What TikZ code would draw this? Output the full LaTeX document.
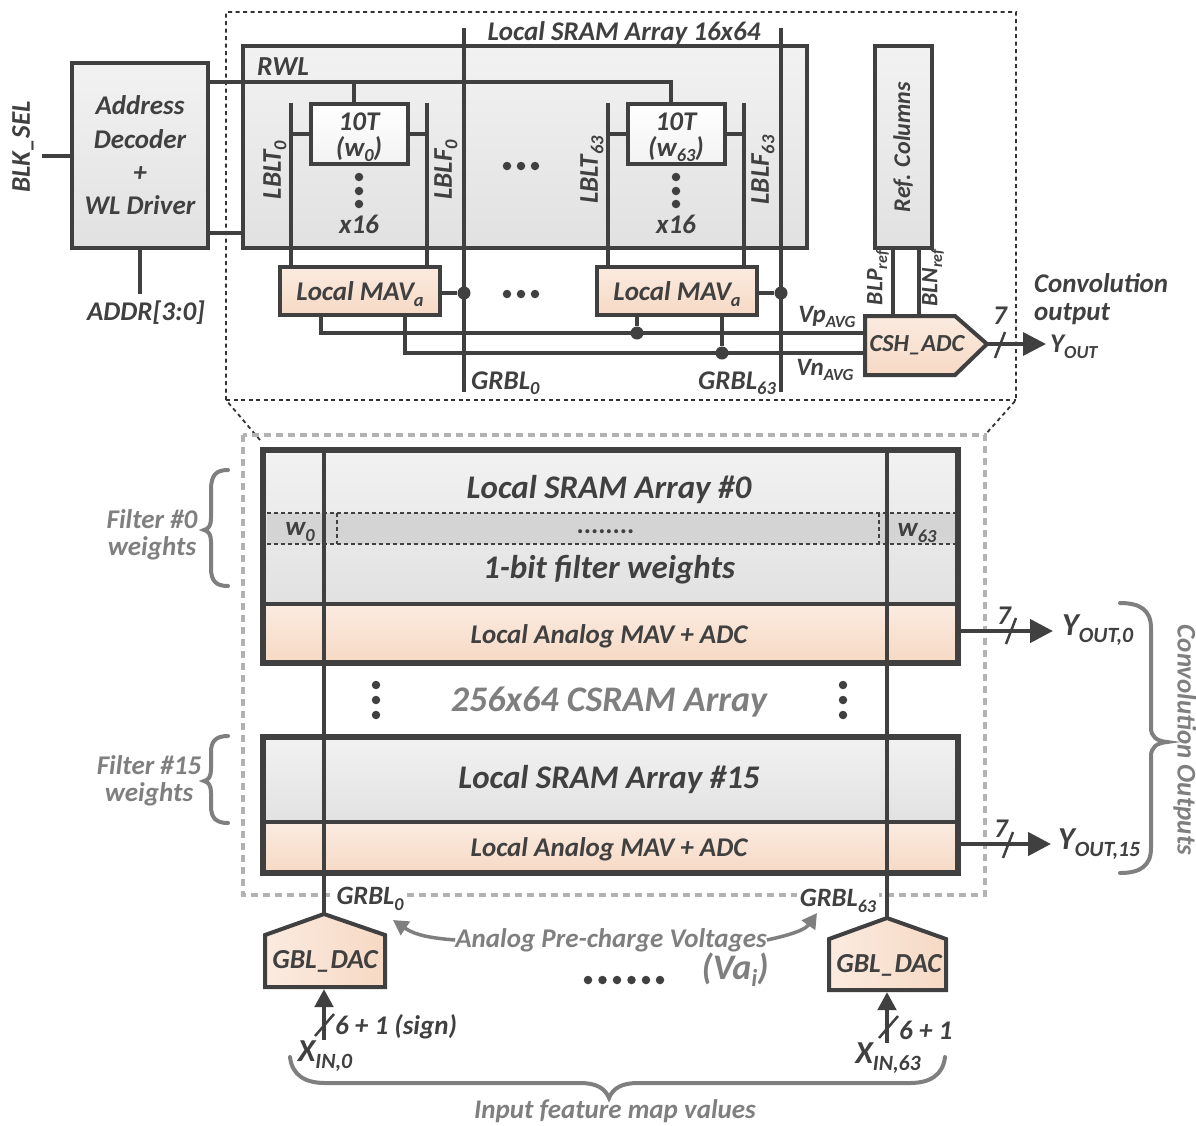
\documentclass[tikz,border=0pt]{standalone}
\usepackage{fontspec}
\setmainfont{Carlito}
\usetikzlibrary{arrows.meta,calc}
\definecolor{LineC}{HTML}{404040}
\definecolor{GrayC}{HTML}{7F7F7F}
\definecolor{PeachA}{HTML}{FBEBE0}
\definecolor{PeachB}{HTML}{F6D9C4}
\definecolor{SilverA}{HTML}{F2F2F2}
\definecolor{SilverB}{HTML}{E1E1E1}
\newcommand{\Sub}[1]{\raisebox{-0.2em}{\scalebox{0.68}{#1}}}
\newcommand{\Fs}[1]{\fontsize{#1}{\the\dimexpr#1pt*6/5\relax}\selectfont}

\begin{document}
\begin{tikzpicture}
[   x=1pt, y=-1pt,
    wire/.style={draw=LineC, line width=3.5pt},
    arrowwire/.style={wire, line width=4.5pt, -{Triangle[length=23pt,width=23pt]}},
    graywire/.style={draw=GrayC, line width=3.5pt},
    brace/.style={draw=GrayC, line width=4pt, line cap=round},
    boxtxt/.style={text=LineC, font=\bfseries\itshape\Fs{27}, inner sep=0, align=center},
    txt/.style={boxtxt, yshift=-2pt},
    graytxt/.style={txt, text=GrayC},
    silverbox/.style={draw=LineC, line width=4pt, top color=SilverA, bottom color=SilverB, inner sep=0, outer sep=0, boxtxt},
    peachbox/.style={draw=LineC, line width=4pt, top color=PeachA, bottom color=PeachB, inner sep=0, outer sep=0, boxtxt},
    cellbox/.style={silverbox, top color=white, bottom color=SilverA},
    mavbox/.style={peachbox, minimum width=160pt, minimum height=48pt},
    junction/.style={circle, fill=LineC, minimum size=13pt, inner sep=0},
    smalldot/.style={circle, fill=LineC, minimum size=8.5pt, inner sep=0}
]
    \useasboundingbox (0,0) rectangle (1196,1125);

    % dashed frames
    \draw[black!80, line width=1.8pt, dash pattern=on 4pt off 3.5pt]
        (260,440) -- (226,400) -- (226,12) -- (1016,12) -- (1016,400) -- (985,435);
    \draw[black!80, line width=1.8pt, dash pattern=on 4pt off 3.5pt] (226,400) -- (1016,400);
    \draw[black!30, line width=3.5pt, dash pattern=on 7pt off 5pt] (243,435) rectangle (985,895);

    % local array, top part
    \node[silverbox, minimum width=564pt, minimum height=202pt] (localarray) at (525,147) {};
    \node[silverbox, minimum width=57pt, minimum height=202pt] (refcols) at (903,147)
        {\rotatebox{90}{\Fs{24}Ref. Columns}};
    \node[silverbox, minimum width=136pt, minimum height=185pt] (decoder) at (140,155.5)
        {Address\\[1pt]Decoder\\[1pt]+\\[1pt]WL Driver};
    \node[txt] (arraytitle) at (624,31) {Local SRAM Array 16x64};
    \node[txt, font=\bfseries\itshape\Fs{27.5}] (rwllabel) at (283,65) {RWL};

    \draw[wire] (42,156) -- (decoder.west |- 0,156);
    \node[txt, rotate=90] (blksel) at (23,145) {BLK\_SEL};
    \coordinate (addrend) at (140,294);
    \draw[wire] (decoder.south -| addrend) -- (addrend);
    \node[txt] (addrlabel) at (146,311) {ADDR[3:0]};
    \draw[wire] (decoder.east |- 0,233) -- (localarray.west |- 0,233);

    % the two columns
    \foreach \w/\c in {0/359,63/676}
    {   \node[cellbox, minimum width=97pt, minimum height=60pt] (cell-\w) at (\c,134) {};
        \node[txt] (celltxt-\w) at (\c,135.5) {10T\\[-7pt](w\Sub{\w})};
        \coordinate (lblt-\w) at (\c-68,103);
        \coordinate (lblf-\w) at (\c+68,103);
        \node[mavbox] (mav-\w) at (\c+1,291) {};
        \node[txt] (mavtxt-\w) at (\c+1,292) {Local MAV\Sub{a}};
        \draw[wire] (lblt-\w) -- (lblt-\w |- mav-\w.north);
        \draw[wire] (lblf-\w) -- (lblf-\w |- mav-\w.north);
        \draw[wire] (cell-\w.west) -- (lblt-\w |- cell-\w.west);
        \draw[wire] (cell-\w.east) -- (lblf-\w |- cell-\w.east);
        \node[smalldot] (vd-\w-a) at (\c,177) {};
        \node[smalldot] (vd-\w-b) at (\c,191) {};
        \node[smalldot] (vd-\w-c) at (\c,204) {};
        \node[txt] (times-\w) at (\c,222) {x16};
        \node[txt, rotate=90] (lbltlabel-\w) at (\c-84,168) {LBLT\Sub{\w}};
        \node[txt, rotate=90] (lblflabel-\w) at (\c+87,168) {LBLF\Sub{\w}};
        \coordinate (grbltop-\w) at (\c+105,28);
        \coordinate (grblbot-\w) at (\c+105,392);
        \draw[wire] (grbltop-\w) -- (grblbot-\w);
        \node[junction] (gj-\w) at (\c+105,293) {};
        \draw[wire] (mav-\w.east |- gj-\w) -- (gj-\w);
    }
    \node[txt, anchor=west] (grbl0label) at (471,381) {GRBL\Sub{0}};
    \node[txt, anchor=east] (grbl63label) at (776,381) {GRBL\Sub{63}};

    % word line
    \coordinate (rwlturn) at (671,82);
    \coordinate (rwlstub) at (354,82);
    \draw[wire] (decoder.east |- rwlturn) -- (rwlturn) -- (rwlturn |- cell-63.north);
    \draw[wire] (rwlstub) -- (rwlstub |- cell-0.north);

    % dots between columns
    \foreach \i/\x in {a/507,b/521,c/535}
    {   \node[smalldot] (hd-\i) at (\x,166) {};
        \node[smalldot] (md-\i) at (\x,294) {};
    }

    % adc
    \coordinate (adca) at (865,316);
    \coordinate (adcb) at (955,316);
    \coordinate (adctip) at (987,344);
    \coordinate (adcc) at (955,375);
    \coordinate (adcd) at (865,375);
    \draw[wire, line width=4pt, top color=PeachA, bottom color=PeachB, line join=miter]
        (adca) -- (adcb) -- (adctip) -- (adcc) -- (adcd) -- cycle;
    \node[txt, font=\bfseries\itshape\Fs{24.5}] (adclabel) at (917,343) {CSH\_ADC};

    \coordinate (vpa) at (321,333);
    \coordinate (vna) at (405,353);
    \node[junction] (vpj) at (637,333) {};
    \node[junction] (vnj) at (722,353) {};
    \draw[wire] (vpa |- mav-0.south) -- (vpa) -- (adca |- vpa);
    \draw[wire] (vna |- mav-0.south) -- (vna) -- (adca |- vna);
    \draw[wire] (vpj) -- (vpj |- mav-63.south);
    \draw[wire] (vnj) -- (vnj |- mav-63.south);
    \node[txt, font=\bfseries\itshape\Fs{25}] (vplabel) at (827,315) {Vp\Sub{AVG}};
    \node[txt, font=\bfseries\itshape\Fs{25}] (vnlabel) at (825,368) {Vn\Sub{AVG}};

    \coordinate (blp) at (893,316);
    \coordinate (bln) at (919,316);
    \draw[wire] (blp |- refcols.south) -- (blp);
    \draw[wire] (bln |- refcols.south) -- (bln);
    \node[txt, font=\bfseries\itshape\Fs{23.5}, rotate=90] (blplabel) at (878,276) {BLP\Sub{ref}};
    \node[txt, font=\bfseries\itshape\Fs{23.5}, rotate=90] (blnlabel) at (933,276) {BLN\Sub{ref}};

    \coordinate (yout) at (1046,344);
    \draw[arrowwire, line width=3.5pt] (adctip) -- (yout);
    \draw[wire, line width=2.5pt] (995,358) -- (1005,332);
    \node[txt] (sevenlabel) at (1000,314) {7};
    \node[txt, anchor=west] (youtlabel) at (1050,345) {Y\Sub{OUT}};
    \node[txt, anchor=west, align=left] (convlabel) at (1034,297) {Convolution\\[-5pt]output};

    % big arrays
    \node[silverbox, line width=6pt, minimum width=695pt, minimum height=155pt] (sram-0) at (610.5,527.5) {};
    \node[peachbox, line width=2.5pt, minimum width=695pt, minimum height=58pt] (lmav-0) at (610.5,634) {};
    \node[silverbox, line width=6pt, minimum width=695pt, minimum height=86pt] (sram-15) at (610.5,780) {};
    \node[peachbox, line width=2.5pt, minimum width=695pt, minimum height=50pt] (lmav-15) at (610.5,848) {};
    \draw[LineC, line width=6pt] (263,450) rectangle (958,663);
    \draw[LineC, line width=6pt] (263,737) rectangle (958,873);

    \fill[black!17] (267,513) rectangle (955,544);
    \draw[LineC, line width=2pt, dash pattern=on 4pt off 3pt] (267,513) -- (955,513);
    \draw[LineC, line width=2pt, dash pattern=on 4pt off 3pt] (267,544) -- (955,544);
    \draw[LineC, line width=2pt, dash pattern=on 4pt off 3pt] (337,513) -- (337,544);
    \draw[LineC, line width=2pt, dash pattern=on 4pt off 3pt] (879,513) -- (879,544);

    \node[txt, font=\bfseries\itshape\Fs{33}] (title-0) at (609,488) {Local SRAM Array \#0};
    \node[txt] (wlabel-0) at (300,530) {w\Sub{0}};
    \node[txt] (wlabel-63) at (917,531) {w\Sub{63}};
    \node[txt] (wdots) at (606,530) {........};
    \node[txt, font=\bfseries\itshape\Fs{33}] (bitlabel) at (609,568) {1-bit filter weights};
    \node[txt, font=\bfseries\itshape\Fs{27}] (mavlabel-0) at (609,634) {Local Analog MAV + ADC};
    \node[txt, font=\bfseries\itshape\Fs{33}] (title-15) at (609,778) {Local SRAM Array \#15};
    \node[txt, font=\bfseries\itshape\Fs{27}] (mavlabel-15) at (609,847) {Local Analog MAV + ADC};
    \node[graytxt, font=\bfseries\itshape\Fs{36}] (csramlabel) at (609,700) {256x64 CSRAM Array};

    \foreach \x in {376,843}
    {   \node[smalldot] at (\x,685) {};
        \node[smalldot] at (\x,700) {};
        \node[smalldot] at (\x,715) {};
    }

    % filter labels
    \node[graytxt] (filter-0) at (152,533) {Filter \#0\\[-5.5pt]weights};
    \node[graytxt] (filter-15) at (149,779) {Filter \#15\\[-5.5pt]weights};
    \draw[brace] (228,470) .. controls (216,470) and (211,475) .. (211,490) -- (211,518)
        .. controls (211,525) and (209,529) .. (204,530)
        .. controls (209,531) and (211,535) .. (211,542) -- (211,568)
        .. controls (211,581) and (216,586) .. (228,586);
    \draw[brace] (228,736) .. controls (216,736) and (211,741) .. (211,752) -- (211,769)
        .. controls (211,776) and (209,780) .. (204,781)
        .. controls (209,782) and (211,786) .. (211,793) -- (211,806)
        .. controls (211,818) and (216,823) .. (228,823);

    % dacs
    \coordinate (daca-tip) at (324,914);
    \coordinate (dacb-tip) at (887,918);
    \draw[wire, line width=4pt, left color=PeachA, right color=PeachB, line join=miter]
        (daca-tip) -- (385,935) -- (385,987) -- (265,987) -- (265,935) -- cycle;
    \draw[wire, line width=4pt, left color=PeachA, right color=PeachB, line join=miter]
        (dacb-tip) -- (946,939) -- (946,990) -- (829,990) -- (829,939) -- cycle;
    \node[txt, font=\bfseries\itshape\Fs{27.5}] (dac-0) at (325,959) {GBL\_DAC};
    \node[txt, font=\bfseries\itshape\Fs{27.5}] (dac-63) at (889,963) {GBL\_DAC};

    % bit lines through the array
    \draw[wire, line width=4pt] (324,450) -- (daca-tip);
    \draw[wire, line width=4pt] (887,450) -- (dacb-tip);
    \node[txt, fill=white, inner xsep=3pt, font=\bfseries\itshape\Fs{26.5}] (gl-0) at (370,897) {GRBL\Sub{0}};
    \node[txt, fill=white, inner xsep=3pt, font=\bfseries\itshape\Fs{26.5}] (gl-63) at (838,899) {GRBL\Sub{63}};

    % input side
    \coordinate (xin-0) at (324,1040);
    \coordinate (xin-63) at (887,1043);
    \coordinate (dacin-0) at (324,989);
    \coordinate (dacin-63) at (887,992);
    \draw[arrowwire, -{Triangle[length=18pt,width=18pt]}] (xin-0) -- (dacin-0);
    \draw[arrowwire, -{Triangle[length=18pt,width=18pt]}] (xin-63) -- (dacin-63);
    \draw[wire, line width=2.5pt] (315,1036) -- (334,1014);
    \draw[wire, line width=2.5pt] (879,1038) -- (898,1016);
    \node[txt, anchor=west] (bits-0) at (335,1025) {6 + 1 (sign)};
    \node[txt, anchor=west] (bits-63) at (899,1028) {6 + 1};
    \node[txt, font=\bfseries\itshape\Fs{32}] (xlabel-0) at (325,1054) {X\Sub{IN,0}};
    \node[txt, font=\bfseries\itshape\Fs{32}] (xlabel-63) at (888,1056) {X\Sub{IN,63}};

    % analog pre-charge
    \node[graytxt] (prelabel) at (611,938) {Analog Pre-charge Voltages};
    \node[graytxt, font=\bfseries\itshape\Fs{36}] (valabel) at (735,968) {(Va\Sub{i})};
    \coordinate (pretipl) at (393,920);
    \coordinate (pretipr) at (817,913);
    \draw[graywire, -{Triangle[length=15pt,width=16pt]}] (prelabel.west)
        .. controls (430,938) and (415,935) .. (pretipl);
    \draw[graywire, -{Triangle[length=15pt,width=16pt]}] (prelabel.east)
        .. controls (790,935) and (805,930) .. (pretipr);
    \foreach \x in {588,602.5,617,631.5,646,660}
    {   \node[smalldot] at (\x,980) {};
    }

    % outputs
    \coordinate (out-0) at (1053,631);
    \coordinate (out-15) at (1051,844);
    \draw[arrowwire] (lmav-0.east |- out-0) -- (out-0);
    \draw[arrowwire] (lmav-15.east |- out-15) -- (out-15);
    \draw[wire, line width=2.5pt] (1006,644) -- (1016,618);
    \draw[wire, line width=2.5pt] (1003,858) -- (1013,832);
    \node[txt] (seven-0) at (1004,614) {7};
    \node[txt] (seven-15) at (1001,827) {7};
    \node[txt, anchor=west, font=\bfseries\itshape\Fs{32}] (ylabel-0) at (1062,628) {Y\Sub{OUT,0}};
    \node[txt, anchor=west, font=\bfseries\itshape\Fs{32}] (ylabel-15) at (1058,842) {Y\Sub{OUT,15}};
    \draw[brace] (1120,603) .. controls (1140,603) and (1151,610) .. (1151,628) -- (1151,728)
        .. controls (1151,736) and (1156,741) .. (1167,742)
        .. controls (1156,743) and (1151,748) .. (1151,756) -- (1151,848)
        .. controls (1151,866) and (1140,873) .. (1120,873);
    \node[graytxt, rotate=-90] (convout) at (1185,738) {Convolution Outputs};

    % bottom brace
    \draw[brace] (290,1057) .. controls (292,1075) and (305,1083) .. (325,1083) -- (580,1083)
        .. controls (596,1083) and (605,1088) .. (609,1098)
        .. controls (613,1088) and (622,1083) .. (638,1083) -- (910,1083)
        .. controls (930,1083) and (943,1075) .. (945,1057);
    \node[graytxt] (inputlabel) at (615,1109) {Input feature map values};
\end{tikzpicture}
\end{document}
